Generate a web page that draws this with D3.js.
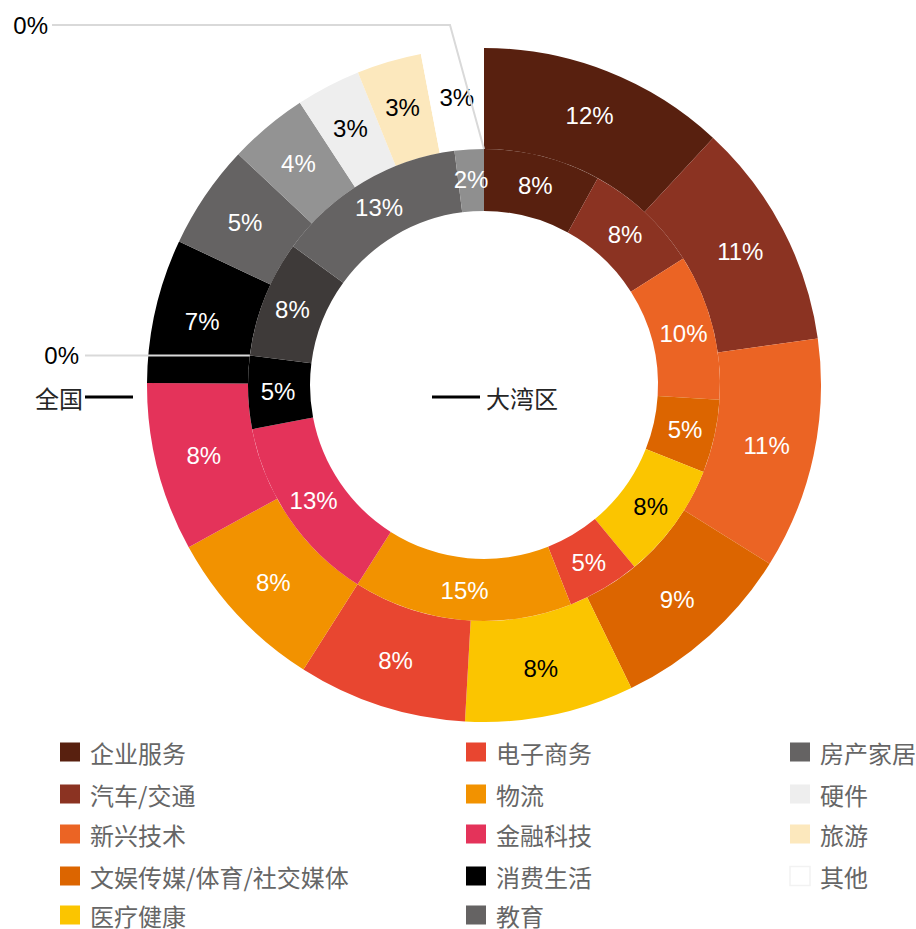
<!DOCTYPE html>
<html>
<head>
<meta charset="utf-8">
<script src="https://cdn.jsdelivr.net/npm/d3@7"></script>
<style>
  body { margin: 0; background: #fff; }
  svg { display: block; }
</style>
</head>
<body>
<script>
let w = 916
let h = 929
let cx = 484
let cy = 385

// data
let categories = ["企业服务", "汽车/交通", "新兴技术", "文娱传媒/体育/社交媒体", "医疗健康",
  "电子商务", "物流", "金融科技", "消费生活", "教育",
  "房产家居", "硬件", "旅游", "其他"]
let nationalValues = [11.9, 10.9, 11.1, 8.9, 8.1, 8.1, 8.0, 8.1, 6.9, 5.0, 3.8, 3.1, 3.1, 3.0]
let bayAreaValues = [8, 8, 10, 5, 8, 5, 15, 13, 5, 0, 8, 13, 2, 0]
let seriesNames = ["全国", "大湾区"]

let legendColors = ["#58200f", "#8b3322", "#eb6424", "#dc6500", "#fbc500",
  "#e84630", "#f29200", "#e4335a", "#000000", "#656363",
  "#656363", "#eeeeee", "#fce8bd", "#ffffff"]
let outerColors = legendColors.slice()
outerColors[10] = "#939393"
let innerColors = legendColors.slice()
innerColors[10] = "#3e3a39"
innerColors[11] = "#656363"
innerColors[12] = "#8f8f8f"

let svg = d3.select("body").append("svg")
  .attr("width", w)
  .attr("height", h)

let g = svg.append("g").attr("transform", "translate(" + cx + "," + cy + ")")

let pie = d3.pie().sort(null).value(d => d.v)
let pct = v => d3.format(".0f")(v) + "%"

let rHole = 174, rMid = 236, rOut = 337

let rings = [
  { values: nationalValues, colors: outerColors, inner: rMid, outer: rOut, labelR: 289 },
  { values: bayAreaValues, colors: innerColors, inner: rHole, outer: rMid, labelR: 206 }
]

let numFont = "'Liberation Sans', Arial, sans-serif"
let cjkFont = "'Noto Sans CJK SC', sans-serif"

let zeroLabels = []

rings.forEach(ring => {
  let arc = d3.arc().innerRadius(ring.inner).outerRadius(ring.outer)
  let labelArc = d3.arc().innerRadius(ring.labelR).outerRadius(ring.labelR)
  let arcs = pie(ring.values.map((v, i) => ({ v: v, i: i })))

  g.append("g").selectAll("path")
    .data(arcs)
    .enter()
    .append("path")
    .attr("d", arc)
    .attr("fill", d => ring.colors[d.data.i])

  g.append("g").selectAll("text")
    .data(arcs.filter(d => d.data.v > 0))
    .enter()
    .append("text")
    .attr("transform", d => "translate(" + labelArc.centroid(d) + ")")
    .attr("text-anchor", "middle")
    .attr("dominant-baseline", "central")
    .attr("font-family", numFont)
    .attr("font-size", 24)
    .attr("fill", d => d3.lab(ring.colors[d.data.i]).l > 75 ? "#000" : "#fff")
    .text(d => pct(d.data.v))

  arcs.filter(d => d.data.v === 0).forEach(d => {
    zeroLabels.push({ angle: d.startAngle, r: ring.outer, v: d.data.v })
  })
})

// leader lines for zero values
zeroLabels.forEach(z => {
  let px = Math.sin(z.angle) * z.r
  let py = -Math.cos(z.angle) * z.r
  let pts, lx, ly
  if (py < -z.r * 0.9) {
    // top: goes up then left
    ly = -360
    pts = [[px, py], [px - 34, ly], [-432, ly]]
    lx = -436
  } else {
    ly = py
    pts = [[px, py], [-399, ly]]
    lx = -405
  }
  g.append("path")
    .attr("d", d3.line()(pts))
    .attr("fill", "none")
    .attr("stroke", "#d9d9d9")
    .attr("stroke-width", 2)
  g.append("text")
    .attr("x", lx)
    .attr("y", ly)
    .attr("text-anchor", "end")
    .attr("dominant-baseline", "central")
    .attr("font-family", numFont)
    .attr("font-size", 24)
    .attr("fill", "#000")
    .text(pct(z.v))
})

// series name markers
let nameY = 397
svg.append("line")
  .attr("x1", 85).attr("x2", 133)
  .attr("y1", nameY).attr("y2", nameY)
  .attr("stroke", "#000").attr("stroke-width", 3)
svg.append("text")
  .attr("x", 83).attr("y", nameY)
  .attr("text-anchor", "end")
  .attr("dominant-baseline", "central")
  .attr("font-family", cjkFont)
  .attr("font-size", 24)
  .attr("fill", "#262626")
  .text(seriesNames[0])
svg.append("line")
  .attr("x1", 432).attr("x2", 480)
  .attr("y1", nameY).attr("y2", nameY)
  .attr("stroke", "#000").attr("stroke-width", 3)
svg.append("text")
  .attr("x", 486).attr("y", nameY)
  .attr("dominant-baseline", "central")
  .attr("font-family", cjkFont)
  .attr("font-size", 24)
  .attr("fill", "#262626")
  .text(seriesNames[1])

// legend
let colX = [60, 466, 790]
let rowY = [752, 794, 834, 876, 915]
let legend = svg.append("g").selectAll("g")
  .data(categories)
  .enter()
  .append("g")
  .attr("transform", (d, i) => "translate(" + colX[Math.floor(i / 5)] + "," + rowY[i % 5] + ")")

legend.append("rect")
  .attr("x", 0).attr("y", -9.5)
  .attr("width", 20).attr("height", 19)
  .attr("fill", (d, i) => legendColors[i])
  .attr("stroke", (d, i) => legendColors[i] === "#ffffff" ? "#f2f2f2" : "none")
  .attr("stroke-width", 1.5)

legend.append("text")
  .attr("x", 30)
  .attr("y", 0)
  .attr("dominant-baseline", "central")
  .attr("font-family", cjkFont)
  .attr("font-size", 24)
  .attr("fill", "#666")
  .text(d => d)
</script>
</body>
</html>
